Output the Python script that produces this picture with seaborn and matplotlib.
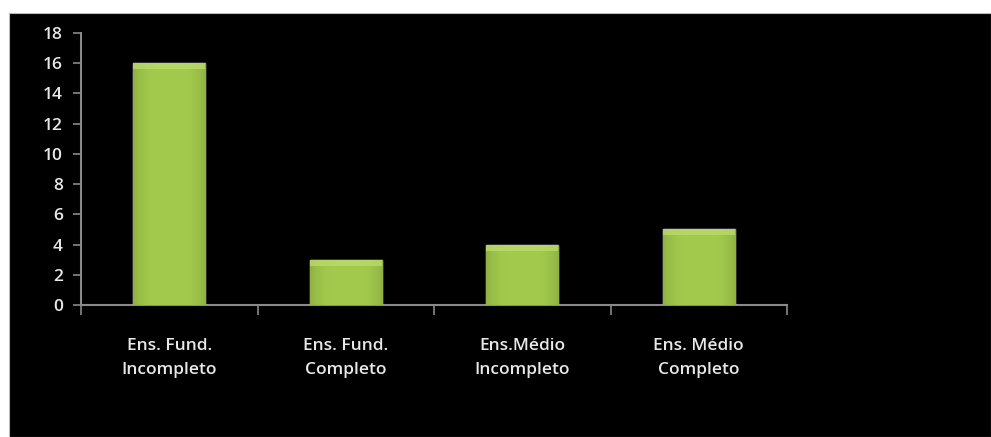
import matplotlib
matplotlib.use("Agg")
import matplotlib.pyplot as plt
import seaborn as sns
import numpy as np
import pandas as pd
from matplotlib.patches import Rectangle

categories = ["Ens. Fund.\nIncompleto", "Ens. Fund.\nCompleto", "Ens.Médio\nIncompleto", "Ens. Médio\nCompleto"]
values = [16, 3, 4, 5]
yticks = [0, 2, 4, 6, 8, 10, 12, 14, 16, 18]

sns.set_style("dark")
plt.rcParams['font.family'] = ['Open Sans', 'DejaVu Sans']

W, H = 991, 437
fig = plt.figure(figsize=(W / 100, H / 100), dpi=100)
fig.patch.set_facecolor("white")

# black panel as a background axes
bg = fig.add_axes([9 / W, 0, 1 - 9 / W, (H - 13) / H], zorder=-1)
bg.set_facecolor("black")
bg.set_xticks([])
bg.set_yticks([])
for s in bg.spines.values():
    s.set_color("#bbbbbb")
    s.set_linewidth(0.8)

ax = fig.add_axes([81 / W, (H - 305) / H, (787 - 81) / W, (305 - 33) / H], zorder=1)
ax.set_facecolor("none")

df = pd.DataFrame({"cat": categories, "val": values})
sns.barplot(data=df, x="cat", y="val", color="#9fc646", width=0.41, ax=ax, saturation=1, zorder=3)

# subtle shading / bevel effect on each bar
grad = np.linspace(0, 1, 64)
prof = 1 - 0.12 * (np.abs(grad - 0.5) * 2) ** 4
base = np.array([0.64, 0.79, 0.30])
img = np.clip(base[None, :] * prof[:, None], 0, 1)[None, :, :]
for p in list(ax.patches):
    x0, y0 = p.get_x(), p.get_y()
    w, h = p.get_width(), p.get_height()
    im = ax.imshow(img, extent=[x0, x0 + w, y0, y0 + h], aspect="auto", zorder=4,
                   interpolation="bicubic")
    im.set_clip_path(p)
    top_h = 0.4
    ax.add_patch(Rectangle((x0, y0 + h - top_h), w, top_h, facecolor="#bcdc6e",
                           edgecolor="none", zorder=5, alpha=0.75))

ax.set_xlim(-0.5, len(categories) - 0.5)
ax.set_ylim(0, 18)
ax.set_yticks(yticks)
ax.set_yticklabels([str(t) for t in yticks])
ax.set_xticks(np.arange(len(categories) + 1) - 0.5, minor=False)
ax.set_xticklabels([""] * (len(categories) + 1))
ax.set_xticks(np.arange(len(categories)), minor=True)
ax.set_xticklabels(categories, minor=True, linespacing=1.65)
ax.set_xlabel("")
ax.set_ylabel("")
ax.grid(False)

for s in ["top", "right"]:
    ax.spines[s].set_visible(False)
for s in ["left", "bottom"]:
    ax.spines[s].set_visible(True)
    ax.spines[s].set_color("#8a8a8a")
    ax.spines[s].set_linewidth(1.5)

ax.tick_params(axis="y", which="major", length=6, width=1.2, color="#8a8a8a",
               labelcolor="#e8e8e8", labelsize=12.5, pad=7, left=True)
ax.tick_params(axis="x", which="major", length=7, width=1.2, color="#8a8a8a", bottom=True)
ax.tick_params(axis="x", which="minor", length=0, labelcolor="#e8e8e8", labelsize=12.5, pad=24)
for lbl in ax.get_yticklabels() + ax.get_xticklabels(minor=True):
    lbl.set_fontweight("semibold")

fig.savefig("out.png", dpi=100, facecolor=fig.get_facecolor())
